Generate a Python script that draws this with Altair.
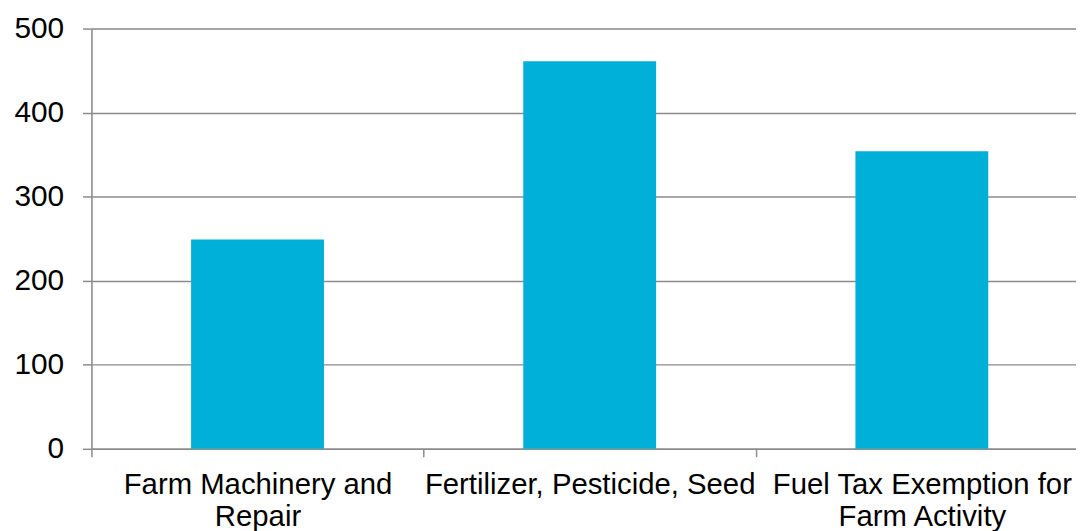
import altair as alt
import pandas as pd

categories = ["Farm Machinery and|Repair", "Fertilizer, Pesticide, Seed", "Fuel Tax Exemption for|Farm Activity"]
values = [249, 461, 354]
y_ticks = [0, 100, 200, 300, 400, 500]

df = pd.DataFrame({"category": categories, "value": values})

FONT = "Liberation Sans"
GRID = "#8c8c8c"

chart = alt.Chart(df).mark_bar(
    color="#00B0D8", width=alt.RelativeBandSize(0.4)
).encode(
    x=alt.X(
        "category:N",
        sort=categories,
        scale=alt.Scale(paddingInner=0, paddingOuter=0, range=[0, 1003]),
        axis=alt.Axis(
            title=None,
            labelAngle=0,
            labelExpr="split(datum.label, '|')",
            labelFont=FONT,
            labelFontSize=29.5,
            labelColor="#000000",
            labelLineHeight=32,
            labelPadding=14,
            labelBaseline="top",
            labelLimit=0,
            tickBand="extent",
            tickSize=8,
            tickColor=GRID,
            tickWidth=1.5,
            domainColor=GRID,
            domainWidth=1.5,
            grid=False,
            labelOverlap=False,
        ),
    ),
    y=alt.Y(
        "value:Q",
        scale=alt.Scale(domain=[0, 500], nice=False),
        axis=alt.Axis(
            title=None,
            values=y_ticks,
            labelFont=FONT,
            labelFontSize=30,
            labelColor="#000000",
            labelPadding=19,
            tickSize=9,
            tickColor=GRID,
            tickWidth=1.5,
            domainColor=GRID,
            domainWidth=1.5,
            grid=True,
            gridColor=GRID,
            gridWidth=1.5,
            gridOpacity=1,
        ),
    ),
).properties(
    width=991,
    height=423,
    autosize=alt.AutoSizeParams(type="none"),
    padding={"left": 84, "top": 19, "right": 0, "bottom": 81},
).configure_view(stroke=None).configure(background="white")

chart.save("out.html", embed_options={"renderer": "svg", "actions": False})
